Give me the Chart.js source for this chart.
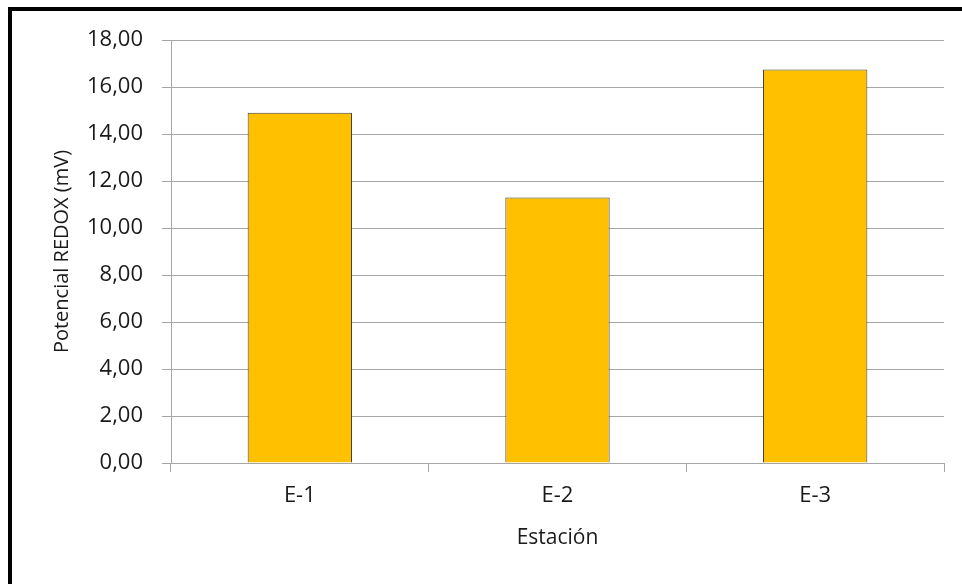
<!DOCTYPE html>
<html>
<head>
<meta charset="utf-8">
<script src="https://cdn.jsdelivr.net/npm/chart.js@4/dist/chart.umd.min.js"></script>
<style>
  body { margin: 0; background: #fff; }
  canvas { display: block; }
</style>
</head>
<body>
<canvas id="redoxChart" width="962" height="584"></canvas>
<script>
// Potencial REDOX por estación de muestreo
const estaciones = ['E-1', 'E-2', 'E-3'];
const potencial = [14.9, 11.3, 16.75];
const yTicks = [0, 2, 4, 6, 8, 10, 12, 14, 16, 18];

const fontFamily = '"Open Sans", "Noto Sans", sans-serif';
const gridColor = '#a6a6a6';
const textColor = '#1a1a1a';

// black frame along the top and left edge
const framePlugin = {
    id: 'frame',
    afterDraw(chart) {
        const c = chart.ctx;
        c.save();
        c.fillStyle = '#000';
        c.fillRect(8, 7, 954, 4);
        c.fillRect(8, 7, 4, 577);
        c.restore();
    }
};

let ctx = document.getElementById('redoxChart').getContext('2d');
let redoxChart = new Chart(ctx, {
    type: 'bar',
    data: {
        labels: estaciones,
        datasets: [{
            label: 'Potencial REDOX (mV)',
            data: potencial,
            backgroundColor: '#ffc000',
            borderColor: '#404040',
            borderWidth: 1,
            barPercentage: 0.405,
            categoryPercentage: 1,
        }]
    },
    options: {
        responsive: false,
        animation: false,
        layout: {
            padding: { left: 0, right: 18, top: 40, bottom: 0 }
        },
        plugins: {
            legend: { display: false },
            tooltip: { enabled: false },
        },
        scales: {
            x: {
                grid: {
                    drawOnChartArea: false,
                    drawTicks: true,
                    tickLength: 9,
                    color: gridColor,
                },
                border: { color: gridColor },
                ticks: {
                    padding: 11,
                    color: textColor,
                    font: { family: fontFamily, size: 22 },
                },
                title: {
                    display: true,
                    text: 'Estación',
                    color: textColor,
                    font: { family: fontFamily, size: 21 },
                    padding: { top: 0, bottom: 33 },
                },
                afterFit(scale) { scale.height = 121; },
            },
            y: {
                min: 0,
                max: 18,
                afterBuildTicks(scale) {
                    scale.ticks = yTicks.map(v => ({ value: v }));
                },
                grid: {
                    color: gridColor,
                    tickLength: 9,
                },
                border: { color: gridColor },
                ticks: {
                    padding: 19,
                    color: textColor,
                    font: { family: fontFamily, size: 22 },
                    callback: v => v.toFixed(2).replace('.', ','),
                },
                title: {
                    display: true,
                    text: 'Potencial REDOX (mV)',
                    color: textColor,
                    font: { family: fontFamily, size: 20 },
                    padding: { top: 50, bottom: 0 },
                },
                afterFit(scale) { scale.width = 171; },
            }
        }
    },
    plugins: [framePlugin]
});
</script>
</body>
</html>
